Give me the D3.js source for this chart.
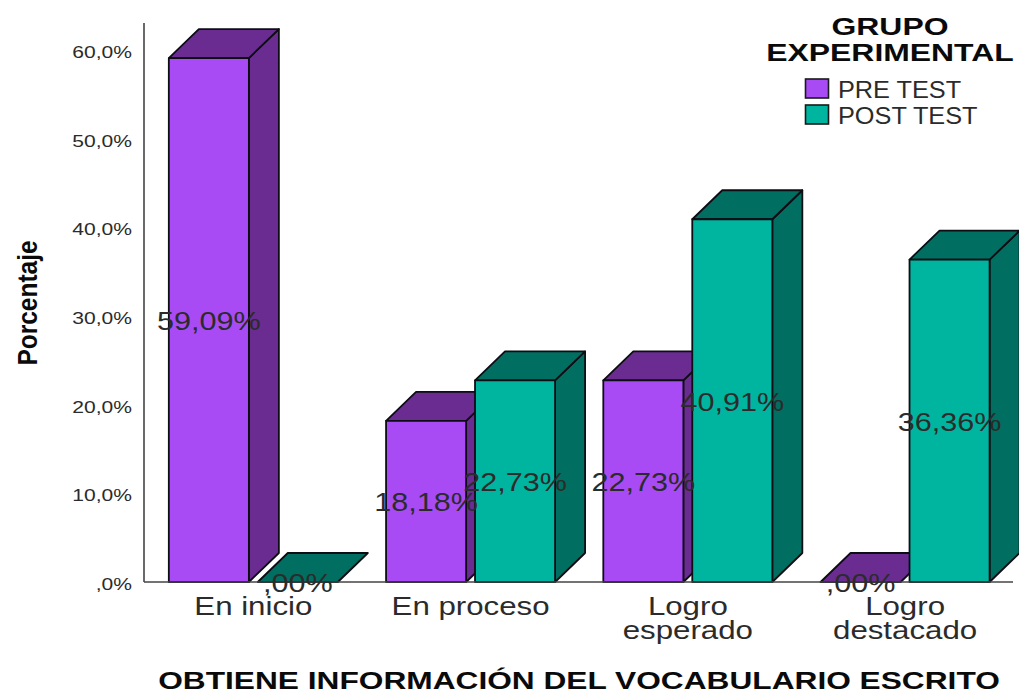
<!DOCTYPE html>
<html>
<head>
<meta charset="utf-8">
<script src="https://cdn.jsdelivr.net/npm/d3@7"></script>
<style>
html,body{margin:0;padding:0;background:#fff;overflow:hidden}
text{font-family:"Liberation Sans",Arial,sans-serif}
</style>
</head>
<body>
<svg id="chart" width="1019" height="694"></svg>
<script>
const categories = ["En inicio", "En proceso", "Logro esperado", "Logro destacado"];
const categoryLines = [["En inicio"], ["En proceso"], ["Logro", "esperado"], ["Logro", "destacado"]];
const seriesNames = ["PRE TEST", "POST TEST"];
const preTest = [59.09, 18.18, 22.73, 0];
const postTest = [0, 22.73, 40.91, 36.36];
const valueLabels = [["59,09%", "18,18%", "22,73%", ",00%"], [",00%", "22,73%", "40,91%", "36,36%"]];
const yTicks = [0, 10, 20, 30, 40, 50, 60];
const yTickLabels = [",0%", "10,0%", "20,0%", "30,0%", "40,0%", "50,0%", "60,0%"];
const frontColors = ["#a94bf5", "#00b5a0"];
const shadeColors = ["#6a2c91", "#006e60"];

const svg = d3.select("#chart");
const baseY = 582, axisX = 144, rightX = 1013, depthX = 30, depthY = 29, edge = "#0d0d14";

const y = d3.scaleLinear().domain([0, 60]).range([baseY, 50]);
const x = d3.scaleBand().domain(categories).range([axisX + 0.7, rightX + 0.7]).paddingInner(0.222).paddingOuter(0.111);
const xInner = d3.scaleBand().domain([0, 1]).range([0, x.bandwidth()]).paddingInner(0.1);
const series = [preTest, postTest];

// Horizontally widened text, anchored at its own x position
function stretched(parent, str, px, py, size, sx, opts = {}) {
  return parent.append("text")
    .attr("transform", `translate(${px},${py}) scale(${sx},1)`)
    .attr("text-anchor", opts.anchor || "middle")
    .attr("font-size", size)
    .attr("font-weight", opts.weight || "normal")
    .attr("fill", opts.fill || "#2b2b2b")
    .text(str);
}

// Y axis: plain line with small light notches at the ticks
const yAxis = svg.append("g").attr("transform", `translate(${axisX},0)`)
  .call(d3.axisLeft(y).tickValues(yTicks).tickSize(0).tickFormat((d, i) => yTickLabels[i]));
yAxis.select(".domain").remove();
yAxis.append("line").attr("x1", 0).attr("x2", 0).attr("y1", 23).attr("y2", baseY)
  .attr("stroke", "#444").attr("stroke-width", 1.6);
yAxis.selectAll(".tick text").each(function () {
  const t = d3.select(this);
  t.attr("x", null).attr("dy", null).attr("y", null)
    .attr("transform", "translate(-12,7.5) scale(1.24,1)")
    .attr("text-anchor", "end").attr("font-size", 17)
    .attr("font-family", '"Liberation Sans",Arial,sans-serif').attr("fill", "#2b2b2b");
});
yAxis.selectAll(".tick").filter(d => d > 0).append("line")
  .attr("x1", -2).attr("x2", 3).attr("stroke", "#fff").attr("stroke-width", 2);

// 3D columns, painted left to right so later faces overlap earlier ones
const bars = svg.append("g");
categories.forEach((cat, c) => {
  series.forEach((vals, s) => {
    const v = vals[c];
    const x0 = x(cat) + xInner(s), w = xInner.bandwidth();
    const x1 = x0 + w, top = y(v);
    const g = bars.append("g")
      .attr("stroke", edge).attr("stroke-width", 1.8).attr("stroke-linejoin", "round");
    if (v > 0) {
      g.append("path").attr("fill", shadeColors[s])
        .attr("d", d3.line()([[x1, top], [x1 + depthX, top - depthY], [x1 + depthX, baseY - depthY], [x1, baseY]]) + "Z");
    }
    g.append("path").attr("fill", shadeColors[s])
      .attr("d", d3.line()([[x0, top], [x0 + depthX, top - depthY], [x1 + depthX, top - depthY], [x1, top]]) + "Z");
    if (v > 0) {
      g.append("rect").attr("x", x0).attr("y", top).attr("width", w).attr("height", baseY - top)
        .attr("fill", frontColors[s]);
    }
  });
});

// Baseline
svg.append("line").attr("x1", axisX).attr("x2", rightX).attr("y1", baseY).attr("y2", baseY)
  .attr("stroke", "#444").attr("stroke-width", 1.6);

// Value labels centred on each column
const labels = svg.append("g");
categories.forEach((cat, c) => {
  series.forEach((vals, s) => {
    const cx = x(cat) + xInner(s) + xInner.bandwidth() / 2;
    const cy = y(vals[c] / 2) + 10;
    stretched(labels, valueLabels[s][c], cx, cy, 25.5, 1.2);
  });
});

// Category labels
categories.forEach((cat, c) => {
  const cx = x(cat) + x.bandwidth() / 2;
  categoryLines[c].forEach((line, i) => {
    stretched(svg, line, cx, 615 + i * 24, 25, 1.25);
  });
});

// Axis titles
stretched(svg, "OBTIENE INFORMACIÓN DEL VOCABULARIO ESCRITO", 579, 689, 24, 1.32, { weight: "bold", fill: "#0a0a0a" });
svg.append("text")
  .attr("transform", "translate(37,303) rotate(-90) scale(1.02,1.15)")
  .attr("text-anchor", "middle").attr("font-size", 24).attr("font-weight", "bold")
  .attr("fill", "#0a0a0a").text("Porcentaje");

// Legend
stretched(svg, "GRUPO", 890, 35, 24, 1.33, { weight: "bold", fill: "#0a0a0a" });
stretched(svg, "EXPERIMENTAL", 890, 61, 24, 1.33, { weight: "bold", fill: "#0a0a0a" });
seriesNames.forEach((name, i) => {
  const ly = 79 + i * 26;
  svg.append("rect").attr("x", 805.5).attr("y", ly).attr("width", 23).attr("height", 19)
    .attr("fill", frontColors[i]).attr("stroke", "#1a1a1a").attr("stroke-width", 1.6);
  stretched(svg, name, 838, ly + 19, 23, 1.1, { anchor: "start" });
});
</script>
</body>
</html>
